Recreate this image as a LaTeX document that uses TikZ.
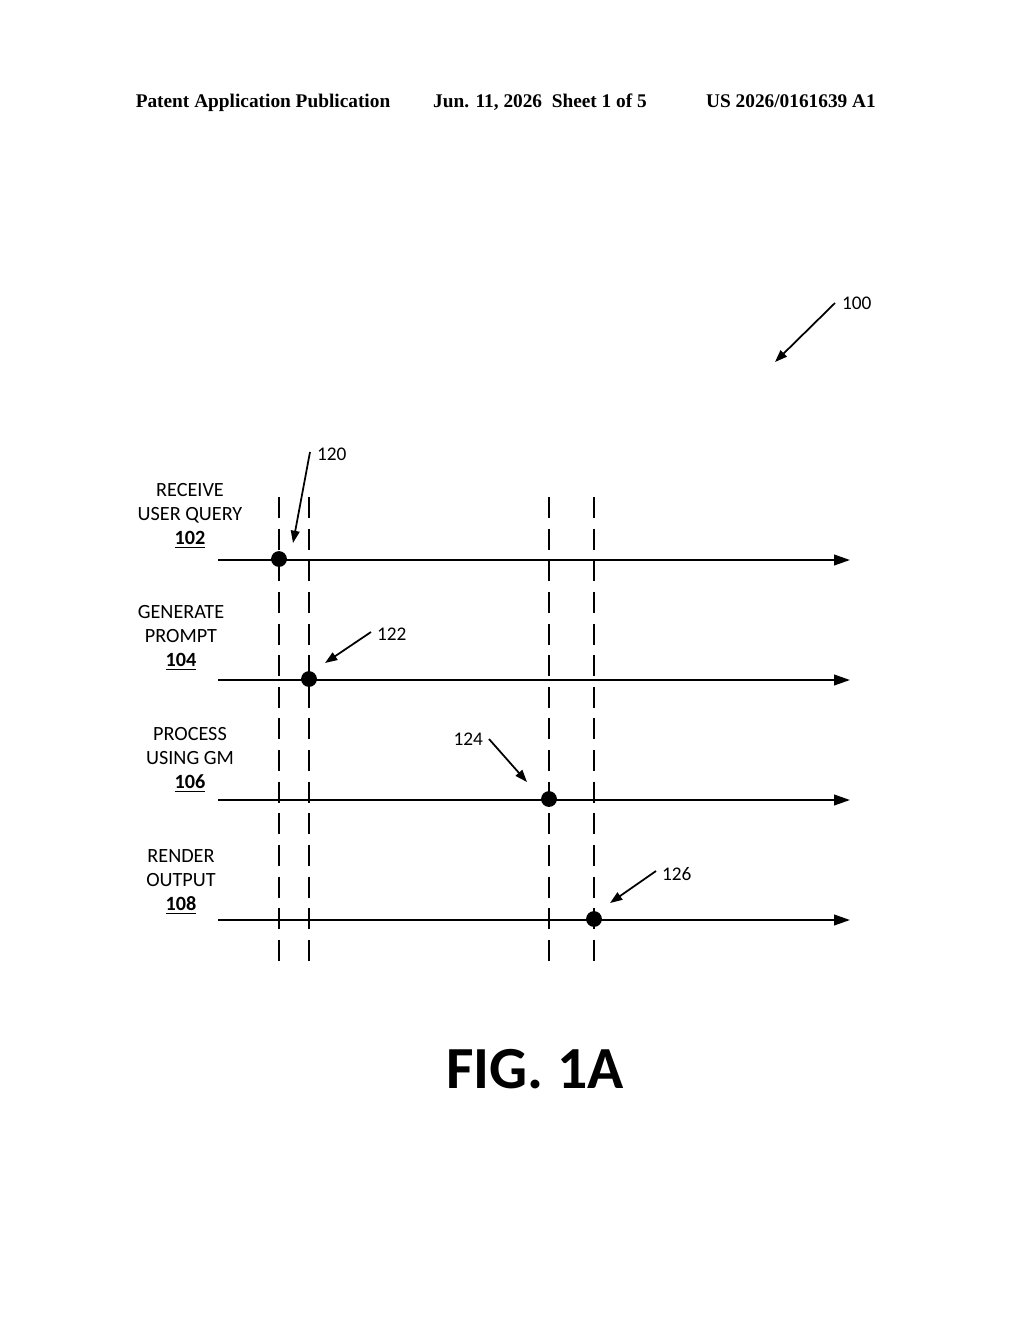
\documentclass[tikz,border=0pt]{standalone}
\usepackage{fontspec}
\setmainfont{Carlito}
\newfontfamily\hdrfont{Liberation Serif}
\usetikzlibrary{arrows.meta}
\tikzset{
  lbl/.style={align=center, font=\fontsize{11.5}{13.6}\selectfont, inner sep=0pt},
  num/.style={font=\fontsize{11}{12}\selectfont, inner sep=1pt},
  hdr/.style={font=\hdrfont\bfseries\fontsize{11}{13}\selectfont, inner sep=0pt, anchor=base},
  axis/.style={line width=1.1pt, -{Triangle[length=9pt,width=6pt]}},
  event/.style={circle, fill=black, minimum size=9pt, inner sep=0pt},
  guide/.style={line width=1pt, dash pattern=on 12pt off 6pt},
  ptr/.style={line width=1pt, -{Triangle[length=7pt,width=5pt]}}
}
\begin{document}
\begin{tikzpicture}[x=0.02cm, y=-0.02cm]
	\useasboundingbox (0,0) rectangle (1024,1320);

	\node[hdr] (h1) at (263,107) {Patent Application Publication};
	\node[hdr] (h2) at (540,107) {Jun. 11, 2026\ \ Sheet 1 of 5};
	\node[hdr] (h3) at (791,107) {US 2026/0161639 A1};

	% time lines
	\foreach \n/\y in {a/560, b/680, c/800, d/920} {
		\coordinate (s\n) at (218,\y);
		\coordinate (e\n) at (850,\y);
		\draw[axis] (s\n) -- (e\n);
	}

	% dashed guides
	\foreach \n/\x in {1/279, 2/309, 3/549, 4/594} {
		\coordinate (t\n) at (\x,497);
		\coordinate (b\n) at (\x,965);
		\draw[guide] (t\n) -- (b\n);
	}

	\node[lbl] (l102) at (190,516) {RECEIVE\\USER QUERY\\\underline{\textbf{102}}};
	\node[lbl] (l104) at (181,638) {GENERATE\\PROMPT\\\underline{\textbf{104}}};
	\node[lbl] (l106) at (190,760) {PROCESS\\USING GM\\\underline{\textbf{106}}};
	\node[lbl] (l108) at (181,882) {RENDER\\OUTPUT\\\underline{\textbf{108}}};

	\node[event] (m1) at (279,559) {};
	\node[event] (m2) at (309,679) {};
	\node[event] (m3) at (549,799) {};
	\node[event] (m4) at (594,919) {};

	\node[num, anchor=west] (n120) at (315,454) {120};
	\node[num, anchor=west] (n122) at (375,634) {122};
	\node[num, anchor=east] (n124) at (485,739) {124};
	\node[num, anchor=west] (n126) at (660,874) {126};
	\node[num, anchor=west] (n100) at (840,303) {100};

	\coordinate (p120) at (310,452);
	\coordinate (q120) at (293,543);
	\coordinate (p122) at (371,632);
	\coordinate (q122) at (325,663);
	\coordinate (p124) at (489,739);
	\coordinate (q124) at (527,782);
	\coordinate (p126) at (656,871);
	\coordinate (q126) at (610,903);
	\coordinate (p100) at (835,303);
	\coordinate (q100) at (775,362);
	\foreach \k in {120,122,124,126,100}
		\draw[ptr] (p\k) -- (q\k);

	\node[font=\bfseries\fontsize{34}{38}\selectfont, inner sep=0pt] (fig) at (535,1069) {FIG. 1A};
\end{tikzpicture}
\end{document}
